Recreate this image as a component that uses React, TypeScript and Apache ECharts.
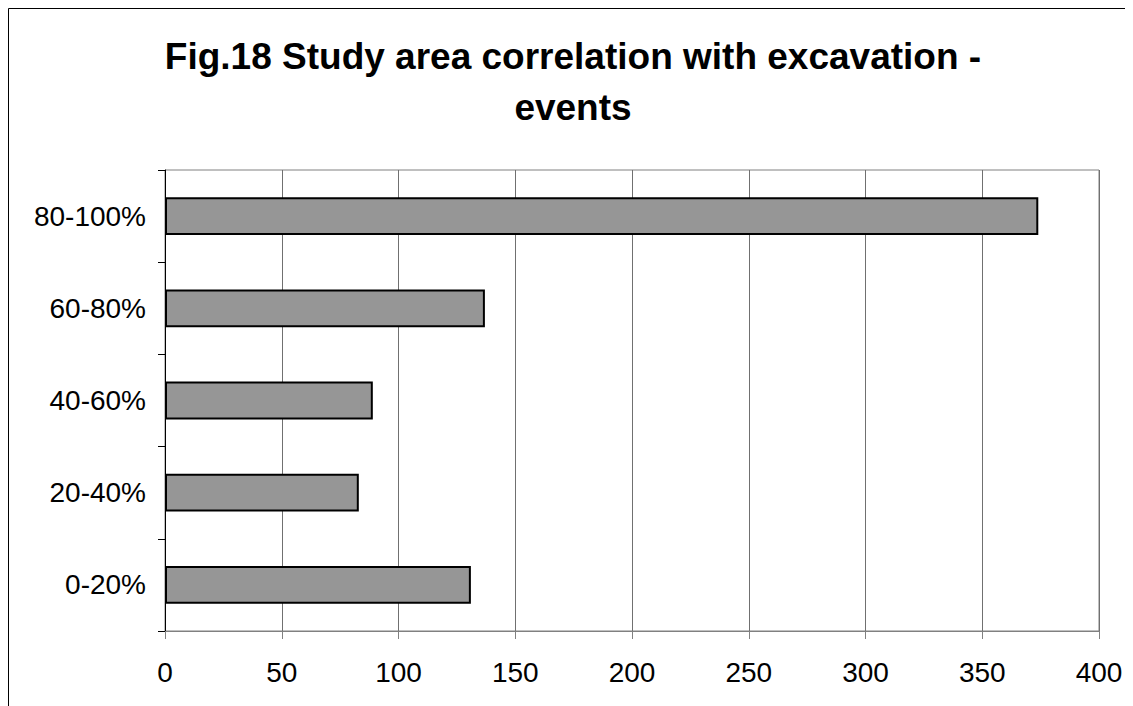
import React, { useEffect, useRef } from "react";
import * as echarts from "echarts";

const categories = ["0-20%", "20-40%", "40-60%", "60-80%", "80-100%"];
const values = [131, 83, 89, 137, 374];
const xTicks = [0, 50, 100, 150, 200, 250, 300, 350, 400];
const titleLines = ["Fig.18 Study area correlation with excavation -", "events"];

const FONT = 'Arial, "Liberation Sans", sans-serif';

export default function App() {
  const ref = useRef<HTMLDivElement>(null);
  useEffect(() => {
    if (!ref.current) return;
    const chart = echarts.init(ref.current, null, { renderer: "svg" });
    chart.setOption({
      animation: false,
      backgroundColor: "#ffffff",
      graphic: [
        { type: "line", shape: { x1: 0.5, y1: 0.5, x2: 1200, y2: 0.5 }, style: { stroke: "#000", lineWidth: 1 } },
        { type: "line", shape: { x1: 0.5, y1: 0.5, x2: 0.5, y2: 800 }, style: { stroke: "#000", lineWidth: 1 } },
        {
          type: "text",
          x: 565,
          y: 48,
          style: { text: titleLines[0], font: `bold 37px ${FONT}`, fill: "#000", align: "center", verticalAlign: "middle" },
        },
        {
          type: "text",
          x: 565,
          y: 99,
          style: { text: titleLines[1], font: `bold 37px ${FONT}`, fill: "#000", align: "center", verticalAlign: "middle" },
        },
      ],
      grid: {
        left: 157,
        top: 162,
        right: 34,
        bottom: 75,
        show: true,
        borderColor: "#808080",
        borderWidth: 1,
        backgroundColor: "transparent",
      },
      xAxis: {
        type: "value",
        min: xTicks[0],
        max: xTicks[xTicks.length - 1],
        interval: 50,
        axisLine: { show: true, lineStyle: { color: "#808080", width: 1 } },
        axisTick: { show: true, length: 8, inside: false, lineStyle: { color: "#808080" } },
        splitLine: { show: true, lineStyle: { color: "#707070", width: 1 } },
        axisLabel: { color: "#000", fontSize: 28, fontFamily: FONT, margin: 27 },
      },
      yAxis: {
        type: "category",
        data: categories,
        axisLine: { show: true, lineStyle: { color: "#000", width: 1 } },
        axisTick: { show: true, length: 7, inside: false, alignWithLabel: false, lineStyle: { color: "#000" } },
        splitLine: { show: false },
        axisLabel: { color: "#000", fontSize: 28, fontFamily: FONT, margin: 19 },
      },
      series: [
        {
          type: "bar",
          data: values,
          barWidth: "41%",
          itemStyle: { color: "#969696", borderColor: "#000", borderWidth: 2 },
        },
      ],
    });
    return () => chart.dispose();
  }, []);
  return <div ref={ref} style={{ width: 1125, height: 698 }} />;
}
